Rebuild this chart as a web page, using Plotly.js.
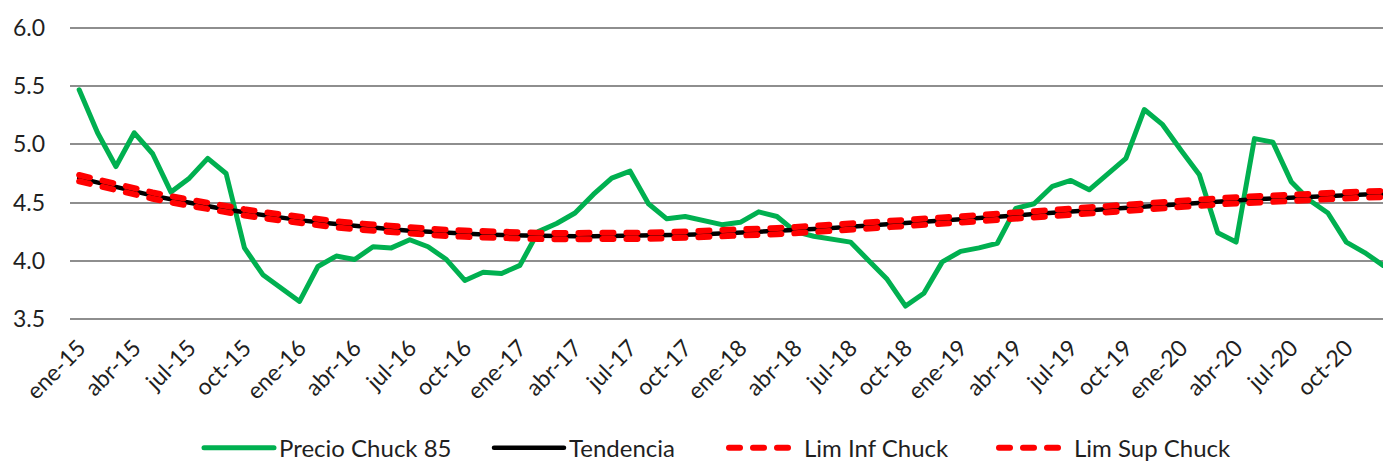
<!DOCTYPE html>
<html>
<head>
<meta charset="utf-8">
<script src="https://cdn.plot.ly/plotly-3.0.1.min.js"></script>
<style>
  html, body { margin: 0; padding: 0; background: #fff; }
  #chart { width: 1383px; height: 463px; }
  .scatterlayer path.js-line, .infolayer path.js-line { stroke-linejoin: round; stroke-linecap: round; }
  .infolayer .legend3 path.js-line, .infolayer .legend4 path.js-line {
    stroke-dasharray: 11px 13px !important; stroke-width: 6px !important; stroke-linecap: round !important;
  }
</style>
</head>
<body>
<div id="chart"></div>
<script>
// ---- data ----
const monthNames = ["ene","feb","mar","abr","may","jun","jul","ago","sep","oct","nov","dic"];
const years = ["15","16","17","18","19","20"];

const precioChuck85 = [
  5.47, 5.10, 4.81, 5.10, 4.92, 4.59, 4.71, 4.88, 4.75, 4.11, 3.88, 3.76,
  3.65, 3.95, 4.04, 4.01, 4.12, 4.11, 4.18, 4.12, 4.01, 3.83, 3.90, 3.89,
  3.96, 4.25, 4.32, 4.41, 4.57, 4.71, 4.77, 4.49, 4.36, 4.38, 4.34, 4.31,
  4.33, 4.42, 4.38, 4.25, 4.21, 4.19, 4.16, 4.00, 3.84, 3.61, 3.72, 3.99,
  4.08, 4.11, 4.15, 4.45, 4.49, 4.64, 4.69, 4.61, 4.75, 4.88, 5.30, 5.17,
  4.95, 4.74, 4.24, 4.16, 5.05, 5.02, 4.68, 4.52, 4.41, 4.16, 4.07, 3.96
];

const tendencia = [
  4.710, 4.670, 4.631, 4.595, 4.560, 4.528, 4.497, 4.468, 4.441, 4.416, 4.392, 4.370,
  4.349, 4.330, 4.313, 4.297, 4.283, 4.270, 4.258, 4.248, 4.239, 4.232, 4.225, 4.220,
  4.216, 4.213, 4.211, 4.210, 4.210, 4.211, 4.212, 4.215, 4.219, 4.223, 4.228, 4.234,
  4.240, 4.247, 4.255, 4.263, 4.272, 4.281, 4.291, 4.300, 4.311, 4.321, 4.332, 4.343,
  4.355, 4.366, 4.378, 4.389, 4.401, 4.412, 4.424, 4.435, 4.447, 4.458, 4.469, 4.480,
  4.490, 4.500, 4.510, 4.519, 4.528, 4.536, 4.544, 4.552, 4.558, 4.564, 4.570, 4.574
];

const limInfChuck = [
  4.683, 4.643, 4.604, 4.568, 4.533, 4.501, 4.470, 4.441, 4.414, 4.389, 4.365, 4.343,
  4.322, 4.303, 4.286, 4.270, 4.256, 4.243, 4.231, 4.221, 4.212, 4.205, 4.198, 4.193,
  4.189, 4.186, 4.184, 4.183, 4.183, 4.184, 4.185, 4.188, 4.192, 4.196, 4.201, 4.207,
  4.213, 4.220, 4.228, 4.236, 4.245, 4.254, 4.264, 4.273, 4.284, 4.294, 4.305, 4.316,
  4.328, 4.339, 4.351, 4.362, 4.374, 4.385, 4.397, 4.408, 4.420, 4.431, 4.442, 4.453,
  4.463, 4.473, 4.483, 4.492, 4.501, 4.509, 4.517, 4.525, 4.531, 4.537, 4.543, 4.547
];

const limSupChuck = [
  4.737, 4.697, 4.658, 4.622, 4.587, 4.555, 4.524, 4.495, 4.468, 4.443, 4.419, 4.397,
  4.376, 4.357, 4.340, 4.324, 4.310, 4.297, 4.285, 4.275, 4.266, 4.259, 4.252, 4.247,
  4.243, 4.240, 4.238, 4.237, 4.237, 4.238, 4.239, 4.242, 4.246, 4.250, 4.255, 4.261,
  4.267, 4.274, 4.282, 4.290, 4.299, 4.308, 4.318, 4.327, 4.338, 4.348, 4.359, 4.370,
  4.382, 4.393, 4.405, 4.416, 4.428, 4.439, 4.451, 4.462, 4.474, 4.485, 4.496, 4.507,
  4.517, 4.527, 4.537, 4.546, 4.555, 4.563, 4.571, 4.579, 4.585, 4.591, 4.597, 4.601
];

const yTickVals = [3.5, 4.0, 4.5, 5.0, 5.5, 6.0];

// ---- build category labels ----
const months = [];
years.forEach(y => monthNames.forEach(m => months.push(m + "-" + y)));
const xTickVals = months.filter((m, i) => i % 3 === 0);

const FONT = "Lato, 'Open Sans', sans-serif";
const TXT = "#1f1f1f";
const ML = 70, PW = 1383 - 70;
const px = v => (v - ML) / PW;   // pixel -> paper x

const traces = [
  { x: months, y: precioChuck85, name: "Precio Chuck 85", type: "scatter", mode: "lines",
    legend: "legend", line: { color: "#00B050", width: 5 } },
  { x: months, y: tendencia, name: "Tendencia", type: "scatter", mode: "lines",
    legend: "legend2", line: { color: "#000000", width: 4.5 } },
  { x: months, y: limInfChuck, name: "Lim Inf Chuck", type: "scatter", mode: "lines",
    legend: "legend3", line: { color: "#FF0000", width: 6, dash: "11px,13px" } },
  { x: months, y: limSupChuck, name: "Lim Sup Chuck", type: "scatter", mode: "lines",
    legend: "legend4", line: { color: "#FF0000", width: 6, dash: "11px,13px" } }
];

const legY = -0.437;
function leg(xpix) {
  return {
    orientation: "h", x: px(xpix), xanchor: "left", y: legY, yanchor: "middle",
    font: { family: FONT, size: 24, color: TXT }, itemwidth: 70,
    bgcolor: "rgba(0,0,0,0)"
  };
}

const layout = {
  width: 1383, height: 463,
  margin: { l: 70, r: 0, t: 27, b: 143, pad: 0, autoexpand: false },
  paper_bgcolor: "#ffffff", plot_bgcolor: "#ffffff",
  font: { family: FONT, color: TXT, size: 22 },
  showlegend: true,
  hovermode: false,
  xaxis: {
    type: "category",
    range: [-0.5, 71],
    tickmode: "array", tickvals: xTickVals, ticktext: xTickVals,
    tickangle: -45,
    tickfont: { family: FONT, size: 23, color: TXT },
    ticklabelstandoff: 9,
    showgrid: false, zeroline: false, showline: false, ticks: "",
    fixedrange: true
  },
  yaxis: {
    range: [3.49, 6.01],
    tickmode: "array", tickvals: yTickVals,
    tickformat: ".1f",
    tickfont: { family: FONT, size: 23, color: TXT },
    showgrid: true, gridcolor: "#8e8e8e", gridwidth: 2,
    zeroline: false, showline: false, ticks: "",
    ticklabelstandoff: 24,
    fixedrange: true
  },
  legend: leg(199),
  legend2: leg(489),
  legend3: leg(724),
  legend4: leg(994)
};

Plotly.newPlot("chart", traces, layout, { displayModeBar: false, staticPlot: true });
</script>
</body>
</html>
